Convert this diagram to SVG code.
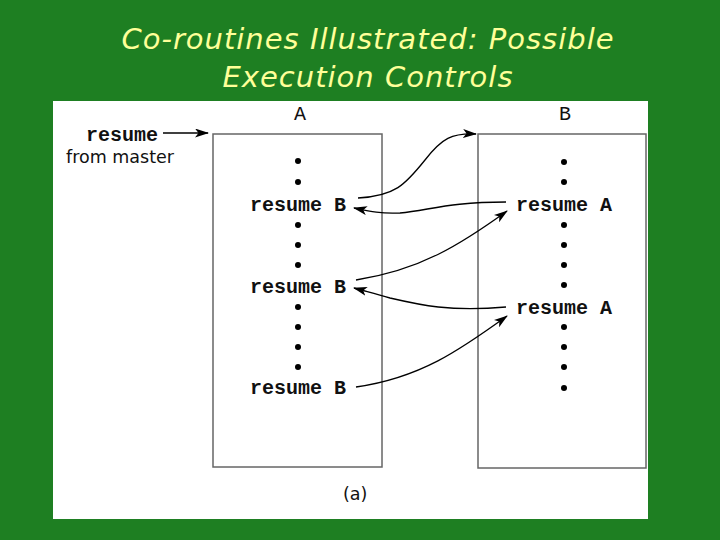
<svg xmlns="http://www.w3.org/2000/svg" width="720" height="540" viewBox="0 0 720 540">
<defs>
<marker id="ah" viewBox="0 0 14 9" refX="13" refY="4.5" markerWidth="14" markerHeight="9" markerUnits="userSpaceOnUse" orient="auto">
<path d="M0,0 L14,4.5 L0,9 L3.5,4.5 Z" fill="#000"/>
</marker>
</defs>
<style>
.title{font-family:"DejaVu Sans",sans-serif;font-style:italic;font-size:29px;letter-spacing:1px;fill:#ffff99;text-anchor:middle}
.code{font-family:"Liberation Mono","DejaVu Sans Mono",monospace;font-weight:bold;font-size:20px;fill:#111}
.lbl{font-family:"Liberation Mono","DejaVu Sans Mono",monospace;font-size:20px;fill:#111;text-anchor:middle}
.sans{font-family:"DejaVu Sans",sans-serif;font-size:17.5px;fill:#111}
.box{fill:#fff;stroke:#666;stroke-width:1.5}
.dot{fill:#000}
.arr{fill:none;stroke:#000;stroke-width:1.3;marker-end:url(#ah)}
</style>
<rect x="0" y="0" width="720" height="540" fill="#1e7f22"/>
<text class="title" x="368" y="49">Co-routines Illustrated: Possible</text>
<text class="title" x="368" y="87">Execution Controls</text>
<rect x="53" y="101" width="595" height="418" fill="#fff"/>
<g id="master">
<text class="code" x="86" y="141">resume</text>
<text class="sans" x="66" y="163">from master</text>
</g>
<g id="nodeA">
<text class="lbl" x="300" y="120">A</text>
<rect class="box" x="213" y="134" width="169" height="333"/>
<circle class="dot" cx="298" cy="161" r="3"/>
<circle class="dot" cx="298" cy="182" r="3"/>
<text class="code" x="250" y="211">resume B</text>
<circle class="dot" cx="298" cy="225" r="3"/>
<circle class="dot" cx="298" cy="245" r="3"/>
<circle class="dot" cx="298" cy="265" r="3"/>
<text class="code" x="250" y="293">resume B</text>
<circle class="dot" cx="298" cy="307" r="3"/>
<circle class="dot" cx="298" cy="327" r="3"/>
<circle class="dot" cx="298" cy="347" r="3"/>
<circle class="dot" cx="298" cy="367" r="3"/>
<text class="code" x="250" y="394">resume B</text>
</g>
<g id="nodeB">
<text class="lbl" x="565" y="120">B</text>
<rect class="box" x="478" y="134" width="168" height="334"/>
<circle class="dot" cx="564" cy="162" r="3"/>
<circle class="dot" cx="564" cy="182" r="3"/>
<text class="code" x="516" y="211">resume A</text>
<circle class="dot" cx="564" cy="225" r="3"/>
<circle class="dot" cx="564" cy="245" r="3"/>
<circle class="dot" cx="564" cy="265" r="3"/>
<circle class="dot" cx="564" cy="285" r="3"/>
<text class="code" x="516" y="314">resume A</text>
<circle class="dot" cx="564" cy="327" r="3"/>
<circle class="dot" cx="564" cy="347" r="3"/>
<circle class="dot" cx="564" cy="367" r="3"/>
<circle class="dot" cx="564" cy="388" r="3"/>
</g>
<g id="caption">
<text class="sans" x="343" y="500">(a)</text>
</g>
<g id="connectors">
<path class="arr" d="M163,133 L208,133"/>
<path class="arr" d="M358,198 C395,196 405,185 425,160 C442,138 452,133 476,134"/>
<path class="arr" d="M506,202 C450,202 430,210 400,213 C380,214 368,211 354,208"/>
<path class="arr" d="M356,280 C420,270 460,245 507,211"/>
<path class="arr" d="M506,307 C450,312 420,305 390,298 C375,294 365,291 354,288"/>
<path class="arr" d="M356,387 C420,378 460,350 507,316"/>
</g>
</svg>
